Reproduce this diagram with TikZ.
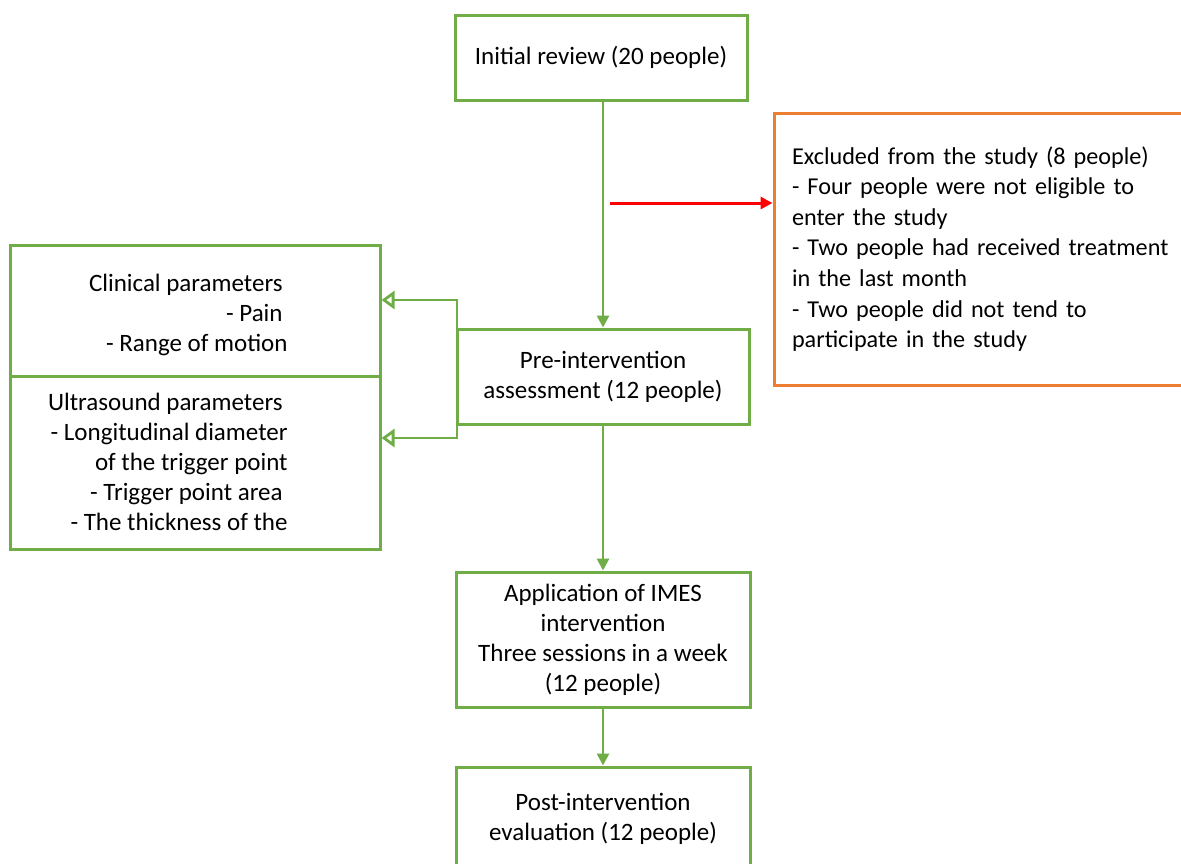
\documentclass[tikz,border=0pt]{standalone}
\usepackage{fontspec}
\setmainfont{Carlito}
\usetikzlibrary{arrows.meta}
\definecolor{gr}{HTML}{70AD47}
\definecolor{orng}{HTML}{ED7D31}
\begin{document}
\begin{tikzpicture}[x=0.5pt,y=-0.5pt,
  box/.style={draw=gr, line width=1.5pt, inner sep=0pt, align=center, font=\fontsize{12.5}{15}\selectfont},
  obox/.style={draw=orng, line width=1.5pt, inner ysep=0pt, font=\fontsize{12.1}{15.3}\selectfont},
  txt/.style={inner sep=0pt, align=right, font=\fontsize{12.5}{15}\selectfont},
  garr/.style={draw=gr, line width=1.4pt, -{Triangle[length=6pt,width=6pt]}},
  rarr/.style={draw=red, line width=1.5pt, -{Triangle[length=6pt,width=6pt]}},
  oarr/.style={draw=gr, line width=1.4pt, {Triangle[open,length=6.5pt,width=9pt]}-{Triangle[open,length=6.5pt,width=9pt]}}]
\clip (0,0) rectangle (1181,863);
\fill[white] (0,0) rectangle (1181,863);
\node[box, minimum width=146pt, minimum height=42.5pt] (init) at (601,57.5) {Initial review (20 people)};
\node[obox, minimum width=218pt, minimum height=136pt, text width=200pt, inner xsep=9pt, align=left] (excl) at (992,249)
  {Excluded from the study (8 people)\\- Four people were not eligible to\\enter the study\\- Two people had received treatment\\in the last month\\- Two people did not tend to\\participate in the study};
\node[box, minimum width=146pt, minimum height=47.5pt] (pre) at (603,376.5) {Pre-intervention\\assessment (12 people)};
\node[box, minimum width=185pt, minimum height=65.5pt] (clin) at (195,310.5) {};
\node[box, minimum width=185pt, minimum height=86.5pt] (ultra) at (195,462.5) {};
\node[txt, anchor=east] (clintext) at (288,315) {Clinical parameters\kern2.5pt\\- Pain\kern2.5pt\\- Range of motion};
\node[txt, anchor=east] (ultratext) at (288,462) {Ultrasound parameters\kern2.5pt\\- Longitudinal diameter\\of the trigger point\\- Trigger point area\kern2.5pt\\- The thickness of the};
\node[box, minimum width=147pt, minimum height=67.5pt] (app) at (603,639.5) {Application of IMES\\intervention\\Three sessions in a week\\(12 people)};
\node[box, minimum width=147pt, minimum height=51.5pt] (post) at (603,818.5) {Post-intervention\\evaluation (12 people)};
\draw[garr] (init.south -| pre.north) -- (pre.north);
\coordinate (rs) at (610,203);
\draw[rarr] (rs) -- (rs -| excl.west);
\draw[garr] (pre.south) -- (app.north);
\draw[garr] (app.south) -- (post.north);
\coordinate (bt) at (457,300);
\coordinate (bb) at (457,438);
\draw[oarr] (bt -| clin.east) -- (bt) -- (bb) -- (bb -| ultra.east);
\end{tikzpicture}
\end{document}
